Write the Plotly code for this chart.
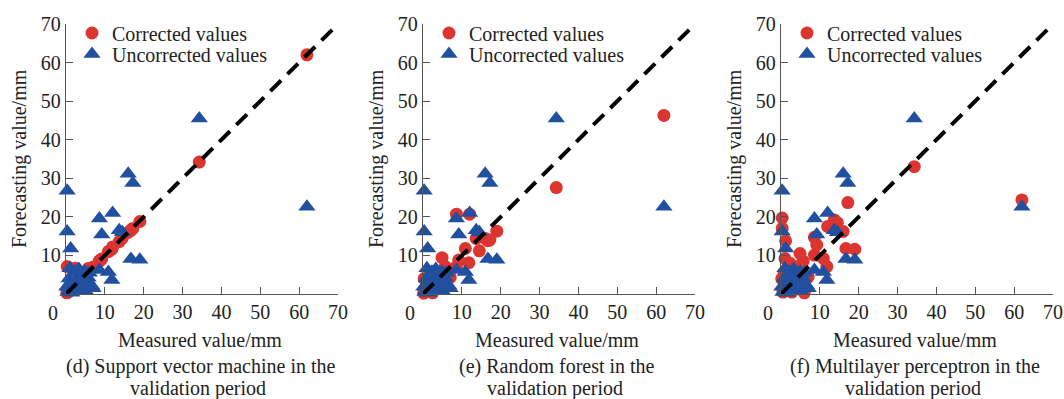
import plotly.graph_objects as go

# Validation-period data (mm): measured rainfall, uncorrected forecast,
# and corrected forecasts from the three models.
measured = [62.0, 34.3, 19.0, 17.2, 16.7, 16.0, 13.7, 12.0, 11.8, 10.9,
            14.5, 9.2, 8.6, 8.6, 6.6, 0.3, 0.3, 1.2, 1.0, 2.3,
            4.9, 5.7, 3.6, 4.9, 0.2, 0.5, 1.5, 2.0, 3.0, 4.0,
            5.5, 6.0, 7.0, 2.5, 1.0, 3.3, 0.8, 2.8]
uncorrected = [22.6, 45.5, 8.9, 28.8, 9.1, 31.2, 16.5, 21.0, 3.6, 5.7,
               16.0, 15.4, 19.6, 6.2, 2.2, 26.8, 16.2, 11.8, 6.7, 5.8,
               5.8, 4.2, 1.5, 1.0, 1.9, 0.5, 0.3, 3.0, 4.5, 3.5,
               2.0, 5.5, 1.5, 0.8, 2.5, 6.5, 4.0, 2.0]
svm_corrected = [62.0, 34.2, 18.8, 17.0, 16.5, 16.0, 13.6, 12.2, 11.6, 11.0,
                 14.5, 9.1, 8.6, 8.5, 6.5, 0.5, 7.1, 1.3, 1.0, 6.7,
                 5.0, 6.6, 3.5, 4.8, 0.3, 0.5, 1.5, 2.0, 3.0, 4.0,
                 5.5, 6.0, 7.0, 2.5, 0.9, 3.3, 0.8, 2.8]
rf_corrected = [46.3, 27.6, 16.3, 14.0, 13.8, 14.4, 14.4, 20.7, 8.1, 11.8,
                11.2, 8.8, 20.7, 7.1, 4.5, 0.5, 4.0, 1.0, 1.5, 2.5,
                9.4, 7.1, 3.0, 4.0, 0.2, 0.5, 1.0, 2.5, 3.5, 4.5,
                3.0, 6.5, 4.3, 0.3, 1.8, 2.0, 0.8, 1.2]
mlp_corrected = [24.4, 33.0, 11.6, 23.7, 11.8, 16.2, 19.2, 17.5, 7.1, 9.2,
                 18.5, 12.7, 14.7, 10.1, 4.0, 19.7, 17.0, 13.8, 9.2, 8.0,
                 10.5, 8.5, 5.5, 2.0, 4.0, 0.5, 3.0, 6.0, 5.0, 7.0,
                 1.0, 0.3, 4.5, 2.2, 1.0, 3.5, 5.5, 0.5]

panels = [
    ("(d) Support vector machine in the", svm_corrected),
    ("(e) Random forest in the", rf_corrected),
    ("(f) Multilayer perceptron in the", mlp_corrected),
]
caption_line2 = "validation period"
x_title = "Measured value/mm"
y_title = "Forecasting value/mm"
ticks = [0, 10, 20, 30, 40, 50, 60, 70]
diag = [0, 70]

W, H = 1064, 399
FONT = "Liberation Serif"
TEXT = "#222222"
RED = "#dc3530"
BLUE = "#2250a0"
AXIS = "#555555"

# pixel layout of each plotting area
x_left = [66, 423, 781]
plot_w = 272
y_top, y_bottom = 24, 294


def px(x):
    return x / W


def py(y):
    return 1 - y / H


fig = go.Figure()
annotations = []
legends = {}

for i, (caption, corrected) in enumerate(panels):
    n = i + 1
    xa = "x" if n == 1 else f"x{n}"
    ya = "y" if n == 1 else f"y{n}"
    leg_c = "legend" if n == 1 else f"legend{2 * n - 1}"
    leg_u = f"legend{2 * n}"

    fig.add_trace(go.Scatter(
        x=measured, y=corrected, mode="markers", name="Corrected values",
        marker=dict(symbol="circle", size=13, color=RED, line=dict(width=0)),
        xaxis=xa, yaxis=ya, legend=leg_c, cliponaxis=False))
    fig.add_trace(go.Scatter(
        x=measured, y=uncorrected, mode="markers", name="Uncorrected values",
        marker=dict(symbol="triangle-up", size=15, color=BLUE, line=dict(width=0)),
        xaxis=xa, yaxis=ya, legend=leg_u, cliponaxis=False))
    fig.add_trace(go.Scatter(
        x=diag, y=diag, mode="lines", showlegend=False,
        line=dict(color="black", width=4, dash="15px,9px"),
        xaxis=xa, yaxis=ya, cliponaxis=False))

    x0 = x_left[i]
    x1 = x0 + plot_w
    axis_common = dict(
        range=[0, 70], showgrid=False, zeroline=False, showline=True,
        linecolor=AXIS, linewidth=1.3, ticks="inside", ticklen=7,
        tickcolor=AXIS, tickwidth=1.3, fixedrange=True, automargin=False,
        tickfont=dict(family=FONT, size=20, color=TEXT))
    fig.update_layout(**{
        ("xaxis" if n == 1 else f"xaxis{n}"): dict(
            domain=[px(x0), px(x1)], anchor=ya, tickvals=ticks,
            ticktext=[""] + [str(t) for t in ticks[1:]],
            ticklabelstandoff=0, **axis_common),
        ("yaxis" if n == 1 else f"yaxis{n}"): dict(
            domain=[py(y_bottom), py(y_top)], anchor=xa, tickvals=ticks[1:],
            ticklabelstandoff=0, **axis_common),
    })

    cx = (x0 + x1) / 2 - 2
    # shared origin label sits left of the corner
    annotations.append(dict(
        text="0", x=0, xref=xa, y=py(313), yref="paper", xshift=-13,
        showarrow=False, font=dict(family=FONT, size=20, color=TEXT),
        xanchor="center", yanchor="middle"))
    annotations.append(dict(
        text=x_title, x=px(cx), y=py(340), xref="paper", yref="paper",
        showarrow=False, font=dict(family=FONT, size=20, color=TEXT),
        xanchor="center", yanchor="middle"))
    annotations.append(dict(
        text=y_title, x=px(x0 - 47), y=py((y_top + y_bottom) / 2),
        xref="paper", yref="paper", textangle=-90, showarrow=False,
        font=dict(family=FONT, size=20, color=TEXT),
        xanchor="center", yanchor="middle"))
    annotations.append(dict(
        text=caption, x=px(cx), y=py(366), xref="paper", yref="paper",
        showarrow=False, font=dict(family=FONT, size=20, color=TEXT),
        xanchor="center", yanchor="middle"))
    annotations.append(dict(
        text=caption_line2, x=px(cx - 2), y=py(388), xref="paper", yref="paper",
        showarrow=False, font=dict(family=FONT, size=20, color=TEXT),
        xanchor="center", yanchor="middle"))

    leg_style = dict(
        xanchor="left", yanchor="middle", bgcolor="rgba(0,0,0,0)",
        borderwidth=0, itemwidth=30,
        font=dict(family=FONT, size=20, color=TEXT))
    text_x = x0 + 44
    legends[leg_c] = dict(x=px(text_x - 38), y=py(33), **leg_style)
    legends[leg_u] = dict(x=px(text_x - 38), y=py(54), **leg_style)

fig.update_layout(
    template="none", width=W, height=H, margin=dict(l=0, r=0, t=0, b=0),
    paper_bgcolor="white", plot_bgcolor="white",
    font=dict(family=FONT, size=20, color=TEXT),
    annotations=annotations, showlegend=True, **legends)

fig.write_html("out.html")
